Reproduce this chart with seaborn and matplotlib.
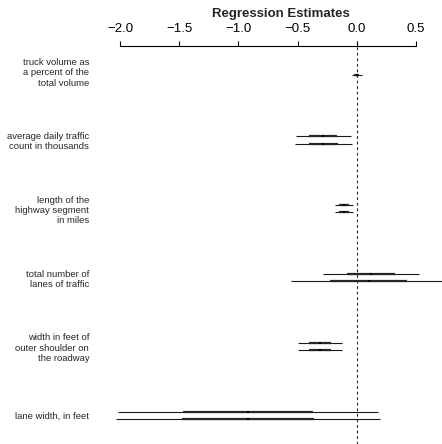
import matplotlib
matplotlib.use("Agg")
import matplotlib.pyplot as plt
import seaborn as sns
import pandas as pd
import numpy as np

# coefficient names (top to bottom)
variables = [
    "truck volume as\na percent of the\ntotal volume",
    "average daily traffic\ncount in thousands",
    "length of the\nhighway segment\nin miles",
    "total number of\nlanes of traffic",
    "width in feet of\nouter shoulder on\nthe roadway",
    "lane width, in feet",
]
# model 1 (upper row) and model 2 (lower row): estimate and standard error
est_m1 = [np.nan, -0.283, -0.108, 0.122, -0.313, -0.916]
se_m1 = [np.nan, 0.117, 0.040, 0.203, 0.093, 0.549]
est_m2 = [0.000, -0.283, -0.108, 0.100, -0.313, -0.916]
se_m2 = [0.022, 0.120, 0.040, 0.328, 0.093, 0.558]
xticks = [-2.0, -1.5, -1.0, -0.5, 0.0, 0.5]

sns.set_theme(style="white")
plt.rcParams['font.family'] = ['Liberation Sans', 'DejaVu Sans']

rows = []
for i, v in enumerate(variables):
    rows.append({"var": v, "model": "m1", "pos": i - 0.052, "est": est_m1[i], "se": se_m1[i]})
    rows.append({"var": v, "model": "m2", "pos": i + 0.052, "est": est_m2[i], "se": se_m2[i]})
df = pd.DataFrame(rows).dropna().reset_index(drop=True)

W, H = 442, 444
fig = plt.figure(figsize=(W / 100, H / 100), dpi=100)
ax = fig.add_axes([110 / W, 0, 332 / W, 1 - 46 / H])

pos = df["pos"].to_numpy()
est = df["est"].to_numpy()
se = df["se"].to_numpy()

# intervals: +-2 se thin, +-1 se thick
ax.hlines(pos, est - 2 * se, est + 2 * se, color="0.1", lw=0.8)
ax.hlines(pos, est - se, est + se, color="0.15", lw=1.6)
sns.scatterplot(data=df, x="est", y="pos", ax=ax, color="black", s=4, marker="s",
                linewidth=0, legend=False, zorder=3)
ax.axvline(0, color="0.15", lw=0.8, ls=(0, (2.5, 2.5)), zorder=0)

ax.set_xlim((110 - 356.8) / 118.4, (442 - 356.8) / 118.4)
ax.set_ylim(5.417, -0.366)

ax.xaxis.tick_top()
ax.set_xticks(xticks)
ax.set_xticklabels([f"{t:.1f}".replace("-", "\u2212") for t in xticks])
ax.tick_params(axis="x", direction="out", length=3.6, width=0.8, pad=4.6,
               labelsize=9.5, colors="black", top=True, bottom=False)
ax.set_yticks(range(len(variables)))
ax.set_yticklabels(variables, multialignment="right", fontsize=6.8)
ax.tick_params(axis="y", length=0, pad=15)
ax.set_xlabel("")
ax.set_ylabel("")

for s in ["left", "right", "bottom"]:
    ax.spines[s].set_visible(False)
ax.spines["top"].set_bounds(-2.0, 0.5)
ax.spines["top"].set_color("black")
ax.spines["top"].set_linewidth(0.8)

fig.text(280.5 / W, 1 - 17.3 / H, "Regression Estimates", ha="center", va="baseline",
         fontsize=9.5, fontweight="bold")

fig.savefig("out.png", dpi=100)
